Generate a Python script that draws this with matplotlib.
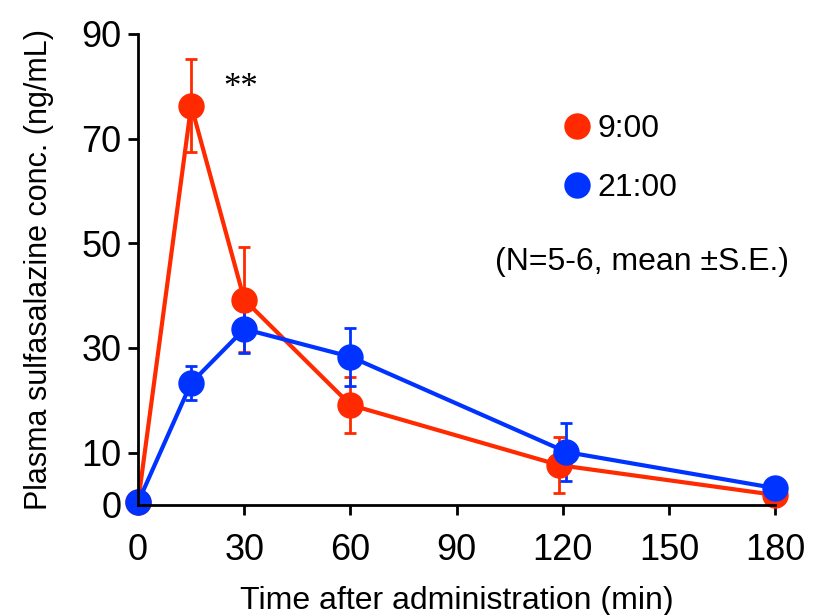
import numpy as np
import matplotlib
matplotlib.use('Agg')
import matplotlib.pyplot as plt
from matplotlib import rcParams
from matplotlib.lines import Line2D

rcParams.update({'font.family': 'Liberation Sans', 'font.size': 22})

# sampling times (min); small offsets used in the original to separate overlapping points
time_am = [0, 15, 30, 60, 119, 180]
time_pm = [0, 15, 30, 60, 121, 180]

conc_am = [0.5, 76.3, 39.2, 19.1, 7.6, 1.9]
se_am = [0, 8.8, 10.0, 5.4, 5.3, 0]
conc_pm = [0.5, 23.3, 33.6, 28.3, 10.1, 3.2]
se_pm = [0, 3.2, 4.5, 5.5, 5.5, 0]

labels = ['9:00', '21:00']
colors = ['#ff2a00', '#0033ff']

xticks = [0, 30, 60, 90, 120, 150, 180]
yticks = [0, 10, 30, 50, 70, 90]

fig = plt.figure(figsize=(8.17, 6.15), dpi=100)
ax = fig.add_axes([0.169, 0.179, 0.78, 0.766])

for tt, cc, ee, col in zip([time_am, time_pm], [conc_am, conc_pm],
                           [se_am, se_pm], colors):
    ax.errorbar(tt, cc, yerr=ee, color=col, lw=3, marker='o', ms=18,
                elinewidth=2, capsize=4, capthick=2, clip_on=False)

ax.set_xlim(0, 180)
ax.set_ylim(0, 90)
ax.set_xticks(xticks)
ax.set_yticks(yticks)
ax.tick_params(labelsize=26, width=2, length=7, pad=5)
ax.tick_params(axis='x', pad=13)
for side in ['top', 'right']:
    ax.spines[side].set_visible(False)
for side in ['left', 'bottom']:
    ax.spines[side].set_linewidth(2)

ax.set_xlabel('Time after administration (min)', fontsize=23, labelpad=13)
ax.set_ylabel('Plasma sulfasalazine conc. (ng/mL)', fontsize=22, labelpad=20)

handles = [Line2D([], [], ls='none', marker='o', ms=18, color=c) for c in colors]
ax.legend(handles, labels, loc='upper left', bbox_to_anchor=(0.614, 0.89),
          frameon=False, fontsize=23, handletextpad=0.02, labelspacing=0.9,
          handlelength=1.2)
ax.text(0.56, 0.515, '(N=5-6, mean \u00b1S.E.)', transform=ax.transAxes,
        fontsize=23, va='center')
ax.text(29, 79.5, '**', fontsize=25, family='Liberation Serif',
        ha='center', va='center')

fig.savefig('out.png', dpi=100)
